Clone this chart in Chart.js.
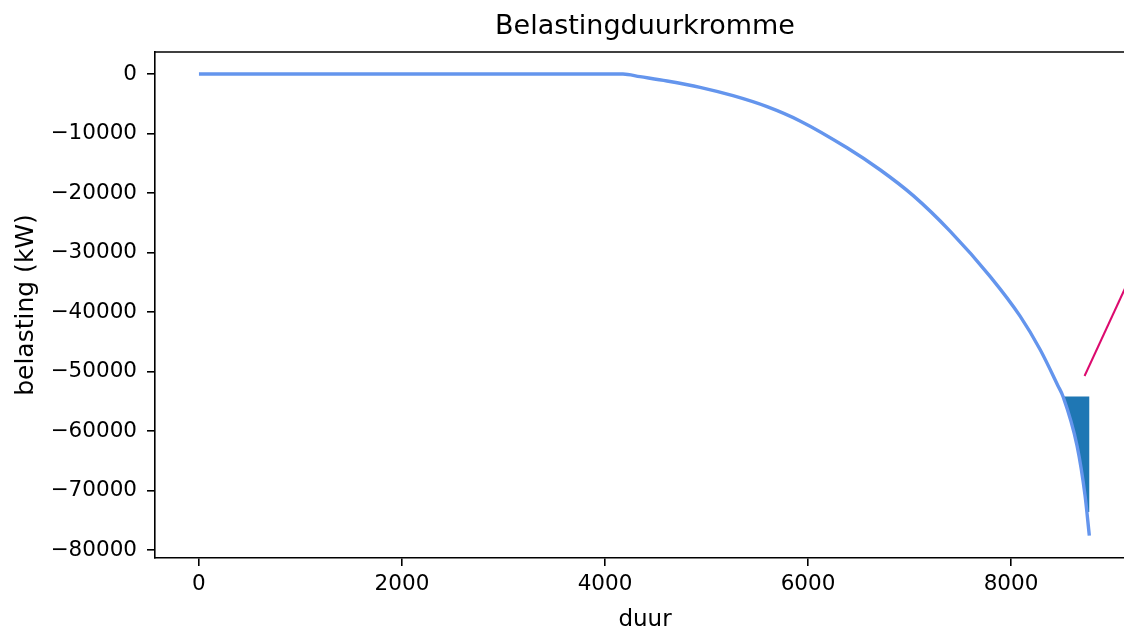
<!DOCTYPE html>
<html>
<head>
<meta charset="utf-8">
<title>Belastingduurkromme</title>
<script src="https://cdn.jsdelivr.net/npm/chart.js@4.4.0/dist/chart.umd.min.js"></script>
<style>
  html, body { margin: 0; padding: 0; background: #fff; overflow: hidden; }
  #wrap { width: 1124px; height: 632px; overflow: hidden; }
</style>
</head>
<body>
<div id="wrap"><canvas id="grafiek" width="1140" height="632"></canvas></div>
<script>
// belastingduurkromme
const duurX = [0, 4177, 4345, 4611, 4936, 5261, 5596, 5921, 6384, 6709, 7034, 7399,
  7793, 8089, 8286, 8463, 8512, 8650, 8729, 8771];
const belastingY = [0, 0, -450, -1170, -2230, -3640, -5480, -7880, -12400, -16090, -20400, -26400,
  -34000, -40690, -46300, -52420, -54200, -62480, -70860, -77570];

// gevuld gebied onder de grens
const vlakX = [8512, 8650, 8729, 8750, 8773];
const vlakY = [-54200, -62480, -70860, -73600, -73600];
const vlakGrens = -54200;

// roze lijn rechts
const lijnX = [8724, 9400];
const lijnY = [-50750, -25780];

// assen
const xTicks = [0, 2000, 4000, 6000, 8000];
const yTicks = [0, -10000, -20000, -30000, -40000, -50000, -60000, -70000, -80000];

function punten(xs, ys) {
  return xs.map((x, i) => ({ x: x, y: ys[i] }));
}

// minteken zoals matplotlib
function label(v) {
  return v < 0 ? "\u2212" + Math.abs(v) : String(v);
}

// bovenste kader-lijn
const kaderPlugin = {
  id: "kader",
  afterDraw(chart) {
    const { ctx, chartArea } = chart;
    ctx.save();
    ctx.strokeStyle = "#000";
    ctx.lineWidth = 1.6;
    ctx.beginPath();
    ctx.moveTo(chartArea.left, chartArea.top);
    ctx.lineTo(chartArea.right, chartArea.top);
    ctx.stroke();
    ctx.restore();
  },
};

Chart.defaults.font.family = "'DejaVu Sans', sans-serif";
Chart.defaults.color = "#000";

const ctx = document.getElementById("grafiek").getContext("2d");
new Chart(ctx, {
  type: "line",
  data: {
    datasets: [
      {
        data: punten(duurX, belastingY),
        borderColor: "#6495ED",
        borderWidth: 3.4,
        pointRadius: 0,
        cubicInterpolationMode: "monotone",
        fill: false,
      },
      {
        data: punten(vlakX, vlakY),
        borderWidth: 0,
        borderColor: "rgba(0,0,0,0)",
        backgroundColor: "#1f77b4",
        pointRadius: 0,
        cubicInterpolationMode: "monotone",
        fill: { target: { value: vlakGrens }, above: "#1f77b4", below: "#1f77b4" },
      },
      {
        data: punten(lijnX, lijnY),
        borderColor: "#dc0a6e",
        borderWidth: 2,
        pointRadius: 0,
        fill: false,
      },
    ],
  },
  options: {
    responsive: false,
    animation: false,
    layout: { padding: { left: 0, right: 5, top: 0, bottom: 0 } },
    plugins: {
      legend: { display: false },
      tooltip: { enabled: false },
      title: {
        display: true,
        text: "Belastingduurkromme",
        fullSize: false,
        font: { size: 27, weight: "normal", lineHeight: 1.2 },
        padding: { top: 11, bottom: 8.6 },
      },
    },
    scales: {
      x: {
        type: "linear",
        min: -433,
        max: 9221,
        afterFit: (scale) => { scale.height = 74; },
        afterBuildTicks: (scale) => { scale.ticks = xTicks.map((v) => ({ value: v })); },
        grid: { drawOnChartArea: false, drawTicks: true, tickLength: 8, color: "#000", lineWidth: 1.6 },
        border: { display: true, color: "#000", width: 1.6 },
        ticks: { font: { size: 21.5 }, padding: 6, maxRotation: 0, callback: label },
        title: { display: true, text: "duur", font: { size: 23, lineHeight: 1.0 }, padding: { top: 0, bottom: 0 } },
      },
      y: {
        type: "linear",
        min: -81340,
        max: 3700,
        afterFit: (scale) => { scale.width = 155; },
        afterBuildTicks: (scale) => { scale.ticks = yTicks.map((v) => ({ value: v })); },
        grid: { drawOnChartArea: false, drawTicks: true, tickLength: 8, color: "#000", lineWidth: 1.6 },
        border: { display: true, color: "#000", width: 1.6 },
        ticks: { font: { size: 21.5 }, padding: 10, callback: label },
        title: { display: true, text: "belasting (kW)", font: { size: 25 }, padding: { top: 11, bottom: 0 } },
      },
    },
  },
  plugins: [kaderPlugin],
});
</script>
</body>
</html>
